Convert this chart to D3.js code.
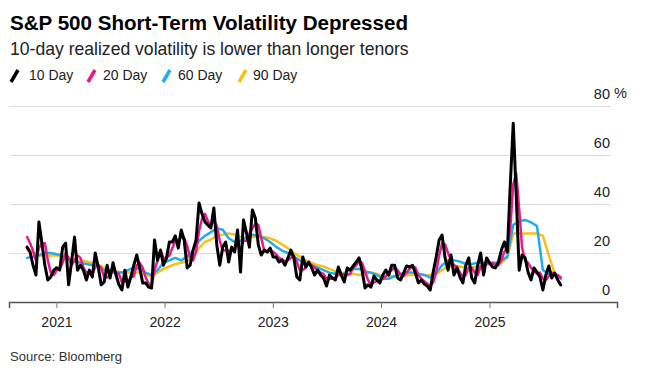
<!DOCTYPE html>
<html><head><meta charset="utf-8">
<script src="https://cdn.jsdelivr.net/npm/d3@7"></script>
<style>
body{margin:0;background:#fff;}
svg text{font-family:"Liberation Sans",Arial,sans-serif;}
</style></head><body>
<svg id="chart" width="645" height="380"></svg>
<script>
const seriesNames = ["10 Day", "20 Day", "60 Day", "90 Day"];
const seriesColors = ["#000000", "#e8198b", "#1fadee", "#fbbf16"];
const yTicks = [0, 20, 40, 60, 80];
const xTickYears = ["2021", "2022", "2023", "2024", "2025"];
const startDate = "2020-09-24";
const fineStepDays = 10;   // 10-day & 20-day series sampling
const coarseStepDays = 20; // 60-day & 90-day series sampling

const vol10 = [22.4,20.4,15,11,32.7,24,15,9,10.2,13,
 14,13,22.4,24,7,16.3,26.5,13,15,13,
 9,13,10.2,20,14.3,7,8.2,15,9.8,16,
 11,7,4.9,13,6.1,10.2,15,19.2,13.9,7.8,
 7.8,6.1,5.7,25.3,17,21.2,15,17.8,24.5,24.5,
 27,22,29.4,25.3,13.9,15,21.2,25.3,40.4,36,
 32.7,31.4,30.2,38.4,23.3,15,22.4,24.5,16.3,22.4,
 20.4,29.4,12.2,33.5,28.2,22.4,37.6,34.3,23.3,19.2,
 21.2,20.4,22,18.4,18.4,16.3,17.1,15,18,21.2,
 18,10.2,9,18.4,14.3,16.3,13.9,11,13,11,
 9.8,6.5,11,9.8,9,14.3,11,8.2,13.9,13,
 14.7,16.3,18,13,5.7,7,6.1,10.6,9,7.8,
 11,13,11,15,15,9.8,9,11.8,14.7,14.3,
 15,11.8,7.8,9,7.3,6.5,4.9,12.2,18.4,25.3,
 27.3,18,13,19.2,11,13.9,10.2,7.8,15,18,
 9.8,7.8,15,20,11,18,16,14.3,13.9,16.3,
 21.2,24.5,20.4,47.8,73,43.7,13,19.2,18,12.2,
 9,13.9,12.2,10.2,4.9,11,14.7,9.8,11.8,9,
 7];

const vol20 = [26.5,24,21,17,22,24,24,17,12,11,
 13,13.5,16,20,18,15,17,19,18,14,
 12,12,11,14.5,15,14,10,10,11,13.5,
 12,11.5,8,8.5,8,10,10.5,15,16,14,
 10,7.5,6.5,13,17,21,18,18,19,22,
 25,25,26.5,26,23,18,17,20.5,29,34,
 36,33,31,33.5,31,25,21,21,21,21,
 21,24,21,25,25,28,30,32,31.5,26,
 21,20.5,21,20.5,19.5,18,17.5,16.5,17,18,
 19,16.5,13,13,14,16,15,14,13,12,
 11.5,9.5,9.5,9.5,10,11,11.5,11,11,11.5,
 14,15,16.5,16,12.5,9,7,8,8.5,9,
 9.5,10.5,12,13,14,13,11,10.5,12,13.5,
 14.5,14,11,9.5,8.5,7.5,6.5,8,12,19,
 24,23.5,20,17,15,14.5,12,10.5,11,14,
 14,12,11,14.5,15.5,16,15.5,16,15,15,
 17,20.5,22,30,48,52.5,38,22,17,16,
 14,12.5,11.5,12,9.5,9,10.5,12,11.5,11,
 10];

const vol60 = [18,18.5,19,20,20,19.5,19,17.5,16.5,16,
 15.5,15,14,13,12,12,12,13,14,13.5,
 12,11,13,16,17,18,17,18.5,21,25,
 27,28.5,30,29.5,26,24.5,25,26.5,27.5,27,
 26,24.5,22.5,21,20,18.5,17,16,15,14,
 13,12,11.5,11,12.5,13.5,13.5,12.5,12,11,
 9.5,9.5,10.5,11.5,12,12,11.5,11,10,12,
 15,17,17,16.5,15.5,15.5,16,16,16,16,
 17,18.5,31.5,33,33.5,32.5,31,13,11.5,11,
 9.5];

const vol90 = [21.5,20,19,19,19,19,18.5,17.5,17,17,
 16.5,16,15,14,13,12.5,12,12,12,12,
 11,10.5,12,13.5,14.5,15.5,16,16.5,19,22,
 24.5,25.5,27,27.5,28,27.5,26.5,26,26.5,26.5,
 26.5,26,25,23.5,22,20,18.5,17,16,15,
 14.5,13.5,12.5,12,11.5,11.5,11,11.5,12,11.5,
 10.5,10.5,10.5,11,11,11,11,11,11,11.5,
 13,14.5,14.5,14.5,14,14,14.5,15,15.5,15.5,
 16,18,28,28,28,28,28,27,19,11.5,
 10];

const svg = d3.select("#chart");
const start = new Date(startDate + "T00:00:00Z");
const toPoints = (vals, step) => vals.map((v, i) => ({date: d3.utcDay.offset(start, i * step), value: v}));
const seriesData = [
  toPoints(vol10, fineStepDays),
  toPoints(vol20, fineStepDays),
  toPoints(vol60, coarseStepDays),
  toPoints(vol90, coarseStepDays)
];

const x = d3.scaleUtc()
  .domain([new Date("2020-07-25T00:00:00Z"), new Date("2026-03-07T00:00:00Z")])
  .range([9, 617]);
const y = d3.scaleLinear().domain([0, 80]).range([302, 106]);

function fit(sel, target) {
  const w = sel.node().getComputedTextLength();
  const fs = parseFloat(sel.attr("font-size"));
  sel.attr("font-size", (fs * target / w).toFixed(2));
}
const title = svg.append("text").attr("x", 10).attr("y", 30)
  .attr("font-size", 20).attr("font-weight", "bold").attr("fill", "#000")
  .text("S&P 500 Short-Term Volatility Depressed");
fit(title, 398);
const sub = svg.append("text").attr("x", 10).attr("y", 55)
  .attr("font-size", 16).attr("fill", "#222")
  .text("10-day realized volatility is lower than longer tenors");
fit(sub, 399);

// Legend
const legendIconX = [10, 87, 162, 238];
const legendTextX = [29, 103, 178, 253];
seriesNames.forEach((name, i) => {
  svg.append("line")
    .attr("x1", legendIconX[i] + 1).attr("y1", 82)
    .attr("x2", legendIconX[i] + 8).attr("y2", 70)
    .attr("stroke", seriesColors[i]).attr("stroke-width", 3.5);
  svg.append("text").attr("x", legendTextX[i]).attr("y", 80)
    .attr("font-size", 14).attr("fill", "#222").text(name);
});

// Y grid + labels
const yAxis = svg.append("g").attr("transform", "translate(611,0)")
  .call(d3.axisLeft(y).tickValues(yTicks).tickSize(601).tickFormat(d => d));
yAxis.select(".domain").remove();
yAxis.selectAll(".tick line").attr("stroke", "#dcdcdc").attr("stroke-width", 1);
yAxis.selectAll(".tick text")
  .attr("x", -1).attr("dy", -8)
  .attr("text-anchor", "end")
  .attr("font-size", 14.5).attr("fill", "#222")
  .style("font-family", '"Liberation Sans",Arial,sans-serif');
svg.append("text").attr("x", 614).attr("y", y(80) - 8)
  .attr("font-size", 14.5).attr("fill", "#222").text("%");

// Lines (draw 90 first, 10 last on top)
const line = d3.line().x(d => x(d.date)).y(d => y(d.value));
const widths = [3, 2.5, 2.5, 2.5];
for (let i = seriesData.length - 1; i >= 0; i--) {
  svg.append("path").datum(seriesData[i])
    .attr("fill", "none").attr("stroke", seriesColors[i])
    .attr("stroke-width", widths[i]).attr("stroke-linejoin", "round")
    .attr("stroke-linecap", "round")
    .attr("d", line);
}

// X axis
const xAxis = svg.append("g").attr("transform", "translate(0,302)")
  .call(d3.axisBottom(x)
    .tickValues(xTickYears.map(s => new Date(s + "-01-01T00:00:00Z")))
    .tickSize(6).tickPadding(9)
    .tickFormat(d3.utcFormat("%Y")));
xAxis.select(".domain").attr("stroke", "#555").attr("stroke-width", 1.5);
xAxis.selectAll(".tick line").attr("stroke", "#777");
xAxis.selectAll(".tick text")
  .attr("font-size", 14).attr("fill", "#222")
  .style("font-family", '"Liberation Sans",Arial,sans-serif');

// Source
const src = svg.append("text").attr("x", 10).attr("y", 361)
  .attr("font-size", 13).attr("fill", "#333").text("Source: Bloomberg");
fit(src, 112);
</script>
</body></html>
